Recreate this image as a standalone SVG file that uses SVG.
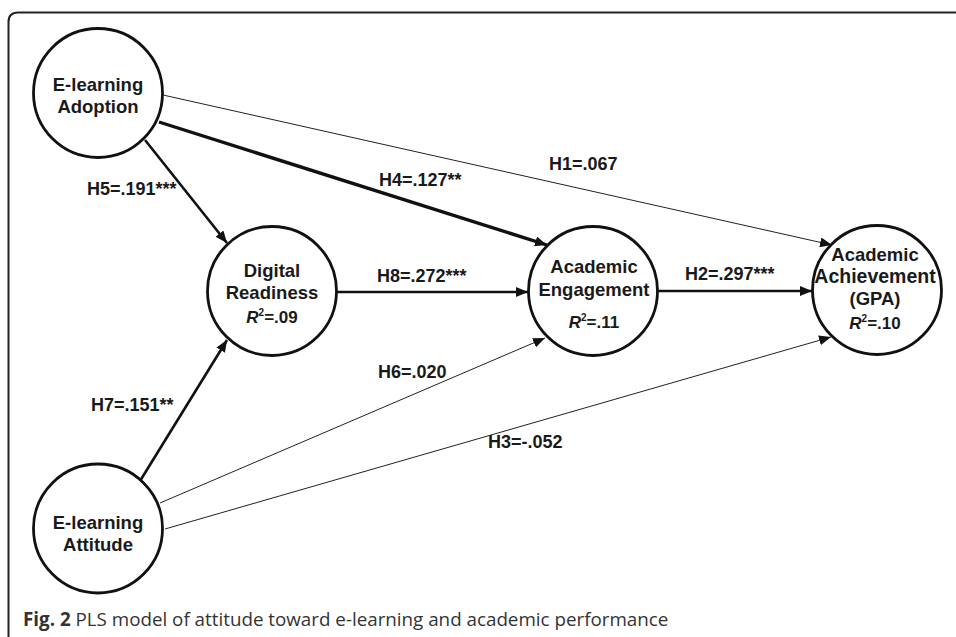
<svg xmlns="http://www.w3.org/2000/svg" width="956" height="637" viewBox="0 0 956 637">
<defs>
<marker id="ah" viewBox="0 0 12 10" refX="12" refY="5" markerWidth="12" markerHeight="10" markerUnits="userSpaceOnUse" orient="auto">
<path d="M0,0 L12,5 L0,10 Z" fill="#111"/>
</marker>
<style>
.node circle{fill:#fff;stroke:#111;stroke-width:2.8}
.nt{font-family:"Liberation Sans",Arial,sans-serif;font-weight:bold;font-size:18.5px;fill:#1a1a1a;text-anchor:middle}
.r2{font-family:"Liberation Sans",Arial,sans-serif;font-weight:bold;font-size:17px;fill:#1a1a1a;text-anchor:middle}
.lbl{font-family:"Liberation Sans",Arial,sans-serif;font-weight:bold;font-size:18px;fill:#1a1a1a}
.thick{stroke:#111;stroke-width:2.6;fill:none;marker-end:url(#ah)}
.thin{stroke:#222;stroke-width:1;fill:none;marker-end:url(#ah)}
.cap{font-family:"Open Sans","Noto Sans",sans-serif;font-size:18.8px;fill:#333}
</style>
</defs>
<rect width="956" height="637" fill="#fff"/>
<path d="M8.5 637 V22 Q8.5 12.5 18 12.5 H956" fill="none" stroke="#222" stroke-width="2"/>
<g id="connectors">
<line class="thin" x1="163" y1="95" x2="832" y2="245"/>
<line class="thick" style="stroke-width:3.4" x1="159" y1="122" x2="547" y2="245"/>
<line class="thick" x1="145" y1="140" x2="227" y2="243"/>
<line class="thick" x1="337" y1="292" x2="528" y2="292"/>
<line class="thick" x1="658" y1="291" x2="812" y2="291"/>
<line class="thick" x1="140" y1="481" x2="227" y2="340"/>
<line class="thin" x1="160" y1="503" x2="545" y2="338"/>
<line class="thin" x1="165" y1="529" x2="831" y2="337"/>
</g>
<g id="labels">
<text class="lbl" x="87" y="195">H5=.191***</text>
<text class="lbl" x="379" y="186">H4=.127**</text>
<text class="lbl" x="549" y="170">H1=.067</text>
<text class="lbl" x="377" y="282">H8=.272***</text>
<text class="lbl" x="685" y="280">H2=.297***</text>
<text class="lbl" x="378" y="378">H6=.020</text>
<text class="lbl" x="91" y="411">H7=.151**</text>
<text class="lbl" x="488" y="448">H3=-.052</text>
</g>
<g id="adoption" class="node">
<circle cx="98" cy="93" r="64.5"/>
<text class="nt" x="98" y="91">E-learning</text>
<text class="nt" x="98" y="113">Adoption</text>
</g>
<g id="readiness" class="node">
<circle cx="272" cy="291" r="64.5"/>
<text class="nt" x="272" y="277">Digital</text>
<text class="nt" x="272" y="299">Readiness</text>
<text class="r2" x="272" y="323"><tspan font-style="italic">R</tspan><tspan font-size="10" dy="-7">2</tspan><tspan dy="7">=.09</tspan></text>
</g>
<g id="engagement" class="node">
<circle cx="593" cy="291" r="64.5"/>
<text class="nt" x="594" y="273">Academic</text>
<text class="nt" x="594" y="296">Engagement</text>
<text class="r2" x="594" y="328"><tspan font-style="italic">R</tspan><tspan font-size="10" dy="-7">2</tspan><tspan dy="7">=.11</tspan></text>
</g>
<g id="achievement" class="node">
<circle cx="877" cy="290" r="64.5"/>
<text class="nt" x="875" y="261">Academic</text>
<text class="nt" x="875" y="283" style="font-size:19.5px">Achievement</text>
<text class="nt" x="875" y="305">(GPA)</text>
<text class="r2" x="875" y="329"><tspan font-style="italic">R</tspan><tspan font-size="10" dy="-7">2</tspan><tspan dy="7">=.10</tspan></text>
</g>
<g id="attitude" class="node">
<circle cx="98" cy="528.5" r="64.5"/>
<text class="nt" x="98" y="529">E-learning</text>
<text class="nt" x="98" y="551">Attitude</text>
</g>
<text class="cap" x="23" y="626"><tspan font-weight="bold">Fig. 2</tspan> PLS model of attitude toward e-learning and academic performance</text>
</svg>
